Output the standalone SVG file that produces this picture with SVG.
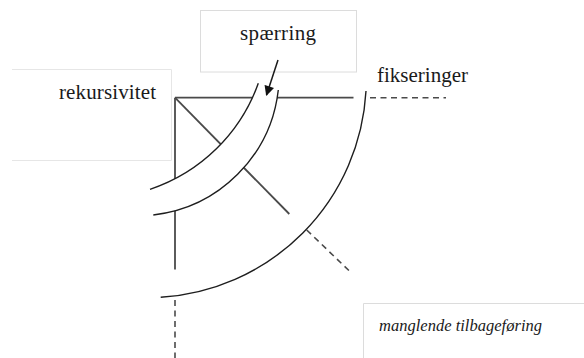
<svg xmlns="http://www.w3.org/2000/svg" width="584" height="358" viewBox="0 0 584 358">
<style>
.lbl{font-family:"Liberation Serif","Times New Roman",serif;font-size:21px;fill:#1a1a1a}
.it{font-style:italic;font-size:16.5px}
.box{fill:#fff;stroke:#dcdcdc;stroke-width:1}
.ln{stroke:#4a4a4a;stroke-width:1.8;fill:none}
.arc{stroke:#1e1e1e;stroke-width:1.4;fill:none}
.dash{stroke:#4a4a4a;stroke-width:1.6;fill:none;stroke-dasharray:6 4.5}
</style>
<defs>
<marker id="ah" viewBox="0 0 10 10" refX="9" refY="5" markerWidth="11" markerHeight="10" markerUnits="userSpaceOnUse" orient="auto">
<path d="M0,0 L10,5 L0,10 Z" fill="#111"/>
</marker>
</defs>
<rect width="584" height="358" fill="#fff"/>

<g id="rekursivitet">
<path d="M12,69.5 H171.5 V160.5 H12" fill="#fff" stroke="#e6e6e6" stroke-width="1"/>
<text class="lbl" x="156" y="99" text-anchor="end" textLength="97">rekursivitet</text>
</g>

<g id="spaerring">
<rect class="box" x="200.5" y="10.5" width="156" height="61.5"/>
<text class="lbl" x="278" y="40" text-anchor="middle" textLength="76">spærring</text>
</g>

<g id="fikseringer">
<text class="lbl" x="377" y="82" textLength="91">fikseringer</text>
</g>

<g id="manglende">
<path d="M584,303.5 H363.5 V358" fill="#fff" stroke="#dcdcdc" stroke-width="1"/>
<text class="lbl it" x="379" y="331" textLength="163">manglende tilbageføring</text>
</g>

<g id="connectors">
<path class="ln" d="M175,97.7 H353.5"/>
<path class="ln" d="M175,97.7 V269.5"/>
<path class="ln" d="M175,97.7 L289.3,214"/>
<path class="dash" d="M370,97.7 H446"/>
<path class="dash" d="M306.7,230 L352,273.5"/>
<path class="dash" d="M175,300 V358"/>
<path class="arc" d="M366,91 A219,219 0 0 1 160.7,297.3"/>
<path d="M258.3,83.3 A173,173 0 0 1 150,189.3 L153.3,215 A142,142 0 0 0 278.3,90 Z" fill="#fff" stroke="none"/>
<path class="arc" d="M258.3,83.3 A173,173 0 0 1 150,189.3"/>
<path class="arc" d="M278.3,90 A142,142 0 0 1 153.3,215"/>
<path d="M278,60 L266.5,95" stroke="#1a1a1a" stroke-width="1.5" fill="none" marker-end="url(#ah)"/>
</g>
</svg>
